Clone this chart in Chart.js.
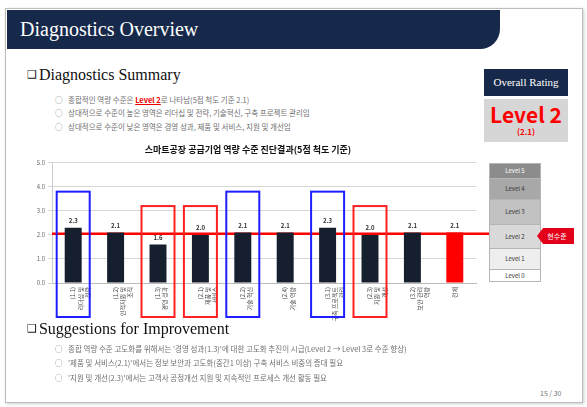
<!DOCTYPE html>
<html>
<head>
<meta charset="utf-8">
<script src="https://cdn.jsdelivr.net/npm/chart.js@4/dist/chart.umd.min.js"></script>
<style>
body { margin: 0; width: 587px; height: 407px; background: #fff; position: relative; overflow: hidden; font-family: "Noto Sans CJK KR", sans-serif; }
.abs { position: absolute; }
.serif { font-family: "Liberation Serif", "DejaVu Serif", serif; font-weight: normal; }
.slide { left: 5px; top: 8px; width: 576px; height: 393px; border: 1px solid #bdbdbd; box-shadow: 1px 1px 3px #ccc; }
.header { left: 7px; top: 10px; width: 493px; height: 39px; background: #16294a; border-bottom-right-radius: 20px; }
.header span { position: absolute; left: 13px; top: 8px; color: #fff; font-size: 20px; }
.head2 { font-size: 16px; color: #111; white-space: nowrap; }
.head2 b { font-weight: normal; font-family: "DejaVu Sans", sans-serif; font-size: 11px; position: relative; top: -2px; margin-right: 2px; }
.bul { font-size: 7.5px; color: #707070; white-space: nowrap; line-height: 10px; }
.bul i { font-style: normal; position: absolute; left: -13px; }
.rate1 { left: 484px; top: 69px; width: 84px; height: 27px; background: #16294a; color: #fff; font-size: 11px; text-align: center; line-height: 27px; }
.rate2 { left: 484px; top: 99px; width: 84px; height: 43px; background: #d6d6d6; color: #ff0000; text-align: center; }
.lvl { left: 489px; width: 52px; font-size: 6px; text-align: center; color: #333; border: 1px solid #b5b5b5; box-sizing: border-box; }
.tag { left: 537px; top: 228px; width: 37px; height: 16px; background: #e3001b; color: #fff; font-size: 7px; line-height: 16px; text-align: center; clip-path: polygon(6px 0, 100% 0, 100% 100%, 6px 100%, 0 50%); padding-left: 3px; box-sizing: border-box; }
</style>
</head>
<body>
<div class="abs slide"></div>
<div class="abs header"><span class="serif">Diagnostics Overview</span></div>

<div class="abs head2 serif" style="left:27px;top:66px;"><b>❑</b>Diagnostics Summary</div>
<div class="abs bul" style="left:68px;top:95px;"><i>○</i>종합적인 역량 수준은 <span style="color:#e00;font-weight:bold;text-decoration:underline;">Level 2</span>로 나타남(5점 척도 기준 2.1)</div>
<div class="abs bul" style="left:68px;top:108px;"><i>○</i>상대적으로 수준이 높은 영역은 리더십 및 전략, 기술혁신, 구축 프로젝트 관리임</div>
<div class="abs bul" style="left:68px;top:122px;"><i>○</i>상대적으로 수준이 낮은 영역은 경영 성과, 제품 및 서비스, 지원 및 개선임</div>

<div class="abs rate1 serif">Overall Rating</div>
<div class="abs rate2"><div style="font-size:21px;font-weight:bold;line-height:26px;margin-top:2px;">Level 2</div><div style="font-size:8px;font-weight:bold;line-height:10px;">(2.1)</div></div>

<div class="abs lvl" style="top:163px;height:16px;line-height:14px;background:#8c8c8c;color:#fff;">Level 5</div>
<div class="abs lvl" style="top:178px;height:22px;line-height:20px;background:#a8a8a8;">Level 4</div>
<div class="abs lvl" style="top:199px;height:26px;line-height:24px;background:#c2c2c2;">Level 3</div>
<div class="abs lvl" style="top:224px;height:25px;line-height:23px;background:#d9d9d9;">Level 2</div>
<div class="abs lvl" style="top:248px;height:22px;line-height:20px;background:#eeeeee;">Level 1</div>
<div class="abs lvl" style="top:269px;height:13px;line-height:11px;background:#ffffff;">Level 0</div>
<div class="abs tag">현수준</div>

<canvas id="chart_diag" class="abs" width="480" height="182" style="left:20px;top:140px;"></canvas>

<div class="abs head2 serif" style="left:27px;top:320px;"><b>❑</b>Suggestions for Improvement</div>
<div class="abs bul" style="left:68px;top:344px;"><i>○</i>종합 역량 수준 고도화를 위해서는 '경영 성과(1.3)'에 대한 고도화 추진이 시급(Level 2 → Level 3로 수준 향상)</div>
<div class="abs bul" style="left:68px;top:358px;"><i>○</i>'제품 및 서비스(2.1)'에서는 정보 보안과 고도화(중간1 이상) 구축 서비스 비중의 증대 필요</div>
<div class="abs bul" style="left:68px;top:373px;"><i>○</i>'지원 및 개선(2.3)'에서는 고객사 공정개선 지원 및 지속적인 프로세스 개선 활동 필요</div>
<div class="abs bul" style="left:540px;top:388px;font-size:7px;">15 / 30</div>

<script>
var categories = [
    ['(1.1)', '리더십 및', '전략'],
    ['(1.2)', '인적자원 및', '조직'],
    ['(1.3)', '경영 성과'],
    ['(2.1)', '제품 및', '서비스'],
    ['(2.2)', '기술 혁신'],
    ['(2.4)', '기술 역량'],
    ['(3.1)', '구축 프로젝트', '관리'],
    ['(2.3)', '지원 및', '개선'],
    ['(3.2)', '보안 관리', '역량'],
    ['전체']
]
var scores = [2.3, 2.1, 1.6, 2.0, 2.1, 2.1, 2.3, 2.0, 2.1, 2.1]
var barColors = ['#161f2e', '#161f2e', '#161f2e', '#161f2e', '#161f2e', '#161f2e', '#161f2e', '#161f2e', '#161f2e', '#ff0000']
var yTicks = [0, 1, 2, 3, 4, 5]
var average = 2.05
var highAreas = [0, 4, 6]
var lowAreas = [2, 3, 7]
var highTop = 3.8
var lowTop = 3.2

// red current-level line, drawn behind the bars
var avg_line = {
    id: 'avg_line',
    beforeDatasetsDraw: function (chart) {
        var ctx = chart.ctx
        var y = chart.scales.y.getPixelForValue(average)
        ctx.save()
        ctx.strokeStyle = '#ff0000'
        ctx.lineWidth = 2.5
        ctx.beginPath()
        ctx.moveTo(chart.chartArea.left, y)
        ctx.lineTo(chart.chartArea.right + 13, y)
        ctx.stroke()
        ctx.restore()
    }
}

// value labels and highlight boxes
var bar_marks = {
    id: 'bar_marks',
    afterDatasetsDraw: function (chart) {
        var ctx = chart.ctx
        var meta = chart.getDatasetMeta(0)
        ctx.save()
        ctx.font = 'bold 6px "Noto Sans CJK KR"'
        ctx.fillStyle = '#333'
        ctx.textAlign = 'center'
        ctx.textBaseline = 'bottom'
        meta.data.forEach(function (bar, i) {
            ctx.fillText(scores[i].toFixed(1), bar.x, bar.y - 4)
        })
        var bottom = chart.chartArea.bottom + 34
        function box(list, top, color) {
            ctx.strokeStyle = color
            ctx.lineWidth = 2
            list.forEach(function (i) {
                var x = chart.scales.x.getPixelForValue(i)
                var y = chart.scales.y.getPixelForValue(top)
                ctx.strokeRect(x - 16.5, y, 33, bottom - y)
            })
        }
        box(highAreas, highTop, '#1f1fff')
        box(lowAreas, lowTop, '#ff2020')
        ctx.restore()
    }
}

new Chart(document.getElementById('chart_diag'), {
    type: 'bar',
    data: {
        labels: categories,
        datasets: [{
            data: scores,
            backgroundColor: barColors,
            barPercentage: 0.8,
            categoryPercentage: 0.5
        }]
    },
    options: {
        responsive: false,
        animation: false,
        devicePixelRatio: 1,
        layout: { padding: { left: 0, right: 24, top: 0, bottom: 0 } },
        plugins: {
            legend: { display: false },
            tooltip: { enabled: false },
            title: {
                display: true,
                text: '스마트공장 공급기업 역량 수준 진단결과(5점 척도 기준)',
                color: '#111',
                font: { family: 'Noto Sans CJK KR', size: 9, weight: 'bold', lineHeight: 1.2 },
                padding: { top: 4, bottom: 8 }
            }
        },
        scales: {
            x: {
                grid: { display: false, drawTicks: true, tickLength: 3 },
                border: { color: '#bbb' },
                ticks: {
                    autoSkip: false,
                    minRotation: 90,
                    maxRotation: 90,
                    padding: 1,
                    color: '#444',
                    font: { family: 'Noto Sans CJK KR', size: 6 }
                },
                afterFit: function (axis) { axis.height = 39 }
            },
            y: {
                min: 0,
                max: 5,
                afterBuildTicks: function (axis) {
                    axis.ticks = yTicks.map(function (v) { return { value: v } })
                },
                grid: { color: '#d6d6d6', tickLength: 4 },
                border: { color: '#ccc' },
                ticks: {
                    padding: 3,
                    color: '#666',
                    font: { family: 'Noto Sans CJK KR', size: 6 },
                    callback: function (value) { return value.toFixed(1) }
                },
                afterFit: function (axis) { axis.width = 32 }
            }
        }
    },
    plugins: [avg_line, bar_marks]
})
</script>
</body>
</html>
